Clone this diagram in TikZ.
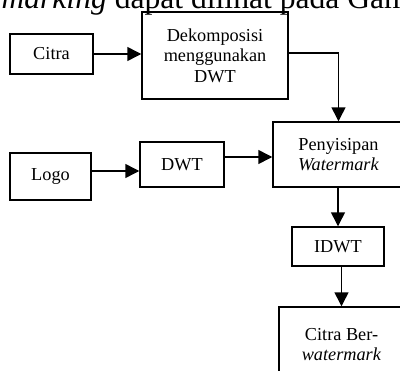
\documentclass[tikz,border=0pt]{standalone}
\usepackage{fontspec}
\setmainfont{Liberation Serif}
\usetikzlibrary{arrows.meta,calc}
\begin{document}
\begin{tikzpicture}[x=0.75pt,y=-0.75pt,
  box/.style={draw,line width=1.1pt,align=center,inner sep=0pt,
    font=\fontsize{13.7}{15.4}\selectfont},
  flow/.style={draw,line width=1.1pt,-{Triangle[length=10.5pt,width=10.5pt]}}]
\useasboundingbox (0,0) rectangle (400,371);
\clip (0,0) rectangle (400,371);
% running text line above the figure
\node[anchor=base west,inner sep=0pt,font=\fontsize{23.7}{26}\selectfont] (txt) at (-11,8.5)
  {\textit{rmarking} dapat dilihat pada Gambar};
% blocks
\node[box,minimum width=83*0.75pt,minimum height=40*0.75pt] (citra) at (51.5,54) {Citra};
\node[box,minimum width=146*0.75pt,minimum height=87*0.75pt] (dek) at (215,55.5)
  {Dekomposisi\\menggunakan\\DWT};
\node[box,minimum width=131*0.75pt,minimum height=65*0.75pt] (pen) at (338.5,154.5)
  {Penyisipan\\\textit{Watermark}};
\node[box,minimum width=81*0.75pt,minimum height=47*0.75pt] (logo) at (50.5,176.5) {Logo};
\node[box,minimum width=84*0.75pt,minimum height=45*0.75pt] (dwt) at (182,164.5) {DWT};
\node[box,minimum width=92*0.75pt,minimum height=39*0.75pt] (idwt) at (338,246.5) {IDWT};
\node[box,minimum width=125*0.75pt,minimum height=93*0.75pt] (cber) at (341.5,353.5) {};
\node[align=center,inner sep=0pt,font=\fontsize{13.7}{15.4}\selectfont,anchor=north] (cbertext) at (341.5,328)
  {Citra Ber-\\\textit{watermark}};
% connectors
\draw[flow] (citra.east) -- (dek.west |- citra.east);
\draw[flow] ($(dek.east)+(0,-2.5)$) -| (pen.north);
\draw[flow] ($(logo.east)+(0,-5.5)$) -- (dwt.west |- {$(logo.east)+(0,-5.5)$});
\draw[flow] ($(dwt.east)+(0,-7.5)$) -- (pen.west |- {$(dwt.east)+(0,-7.5)$});
\draw[flow] (pen.south -| idwt.north) -- (idwt.north);
\draw[flow] (idwt.south -| cber.north) -- (cber.north);
\end{tikzpicture}
\end{document}
